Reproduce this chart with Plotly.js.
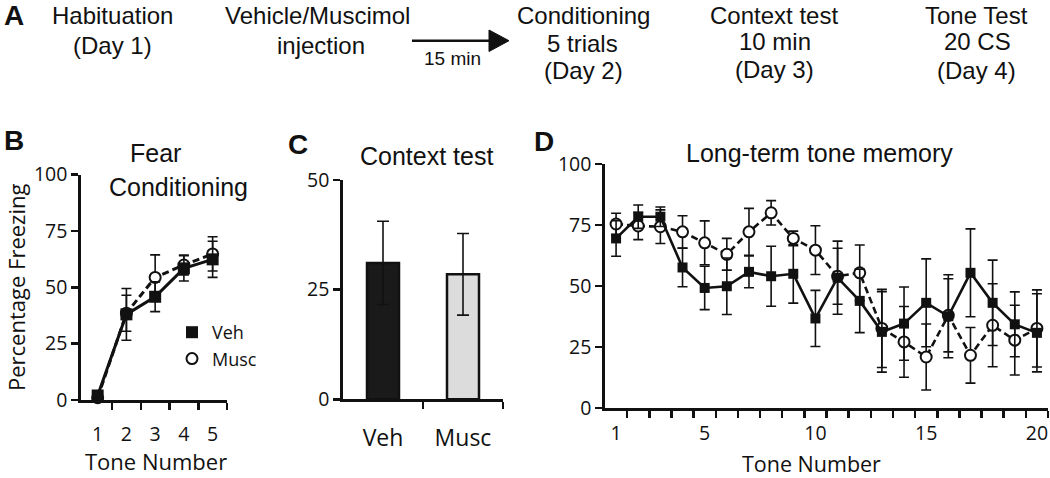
<!DOCTYPE html>
<html>
<head>
<meta charset="utf-8">
<script src="https://cdn.plot.ly/plotly-3.0.1.min.js"></script>
<style>html,body{margin:0;padding:0;background:#fff;}</style>
</head>
<body>
<div id="chart" style="width:1050px;height:478px;"></div>
<script>
// ---------- data ----------
// Panel B: fear conditioning (tones 1-5)
const toneB = [1, 2, 3, 4, 5];
const vehB = [2, 38, 45.8, 58.4, 62.4];
const vehBErr = [1, 11.5, 6.6, 5.6, 8];
const muscB = [1, 38.5, 54.4, 59.9, 64.8];
const muscBErr = [1, 8, 10, 4.4, 7.6];

// Panel C: context test
const groupsC = ['Veh', 'Musc'];
const ctxC = [31.1, 28.5];
const ctxCErr = [9.5, 9.3];

// Panel D: long-term tone memory (tones 1-20)
const toneD = [1,2,3,4,5,6,7,8,9,10,11,12,13,14,15,16,17,18,19,20];
const vehD = [69.5, 78.4, 78.4, 57.6, 49.2, 49.9, 55.8, 54, 55, 36.7, 53.4, 43.9, 31.2, 34.6, 43.1, 37.6, 55.4, 43.1, 34.3, 30.8];
const vehDErr = [7.3, 4.8, 4, 7.9, 8.9, 11.6, 6.5, 12.3, 12, 11.5, 15, 13, 16.5, 15, 18, 17, 18, 17.5, 13.3, 16];
const muscD = [75.4, 74.6, 74.3, 72.2, 67.7, 63, 72.2, 80, 69.5, 64.7, 54, 55.4, 32.6, 27.1, 20.9, 38, 21.6, 33.9, 27.8, 32.6];
const muscDErr = [4.4, 5.6, 6.9, 6.6, 9, 6.5, 9.6, 5, 3, 10, 11.5, 11.4, 16, 14.5, 13.5, 15, 11.4, 17, 14.3, 15.8];

// tick labels
const ticksB = [0, 25, 50, 75, 100];
const ticksC = [0, 25, 50];
const ticksD = [0, 25, 50, 75, 100];
const xLabelsD = [1, 5, 10, 15, 20];

// ---------- helpers ----------
const W = 1050, H = 478;
const px = x => x / W;
const py = y => 1 - y / H;
const INK = '#111';
const SANS = 'Open Sans, Noto Sans, sans-serif';
const ARIAL = 'Liberation Sans, Arial, sans-serif';
const boundaries = (n, start) => Array.from({length: n}, (_, i) => start + i + 0.5);

function ann(text, x, y, size, extra) {
  return Object.assign({
    text: text, xref: 'paper', yref: 'paper', x: px(x), y: py(y),
    xanchor: 'center', yanchor: 'middle', showarrow: false,
    font: {family: ARIAL, size: size, color: INK}
  }, extra || {});
}

function lineTrace(x, y, xa, ya, width, dash) {
  return {x: x, y: y, xaxis: xa, yaxis: ya, type: 'scatter', mode: 'lines',
    line: {color: INK, width: width, dash: dash}, showlegend: false, hoverinfo: 'skip', cliponaxis: false};
}
function markerTrace(name, x, y, err, xa, ya, symbol, size, fill, showlegend) {
  return {x: x, y: y, xaxis: xa, yaxis: ya, type: 'scatter', mode: 'markers', name: name,
    marker: {symbol: symbol, size: size, color: fill, line: {color: INK, width: symbol === 'circle' ? 2 : 0}},
    error_y: {type: 'data', array: err, visible: true, color: INK, thickness: 1.6, width: 5},
    showlegend: showlegend, cliponaxis: false, legendrank: name === 'Veh' ? 1 : 2};
}

const data = [
  // Panel B
  lineTrace(toneB, muscB, 'x', 'y', 3, '7px,4px'),
  markerTrace('Musc', toneB, muscB, muscBErr, 'x', 'y', 'circle', 11, '#fff', true),
  lineTrace(toneB, vehB, 'x', 'y', 3, 'solid'),
  markerTrace('Veh', toneB, vehB, vehBErr, 'x', 'y', 'square', 12, INK, true),
  // Panel C
  {x: [0, 1], y: ctxC, xaxis: 'x2', yaxis: 'y2', type: 'bar', width: 0.4,
   marker: {color: ['#1a1a1a', '#dcdcdc'], line: {color: INK, width: 2.5}},
   error_y: {type: 'data', array: ctxCErr, visible: true, color: INK, thickness: 1.6, width: 6},
   showlegend: false, hovertext: groupsC},
  // Panel D
  lineTrace(toneD, muscD, 'x3', 'y3', 2.6, '7px,4px'),
  markerTrace('Musc', toneD, muscD, muscDErr, 'x3', 'y3', 'circle', 11, '#fff', false),
  lineTrace(toneD, vehD, 'x3', 'y3', 2.6, 'solid'),
  markerTrace('Veh', toneD, vehD, vehDErr, 'x3', 'y3', 'square', 10, INK, false)
];

function xAxis(domain, range, anchor, tickvals, ticktext, minorVals, standoff, fontSize) {
  const ax = {domain: domain, range: range, anchor: anchor, tickmode: 'array', tickvals: tickvals,
    ticks: '', showline: true, linewidth: 2.7, linecolor: INK, showgrid: false, zeroline: false,
    tickfont: {family: SANS, size: fontSize, color: INK}, ticklabelstandoff: standoff, fixedrange: true,
    minor: {tickmode: 'array', tickvals: minorVals, ticks: 'outside', ticklen: 7, tickwidth: 2.5, tickcolor: INK, showgrid: false}};
  if (ticktext) ax.ticktext = ticktext;
  return ax;
}
function yAxis(domain, range, anchor, tickvals) {
  return {domain: domain, range: range, anchor: anchor, tickmode: 'array', tickvals: tickvals,
    ticks: 'outside', ticklen: 7, tickwidth: 2.5, tickcolor: INK, showline: true, linewidth: 2.7, linecolor: INK,
    showgrid: false, zeroline: false, tickfont: {family: SANS, size: 19.5, color: INK}, fixedrange: true};
}

// arrow in panel A
const arrowY = 40.7;
const shapes = [
  {type: 'line', xref: 'paper', yref: 'paper', x0: px(412), x1: px(492), y0: py(arrowY), y1: py(arrowY),
   line: {color: INK, width: 2.5}},
  {type: 'path', xref: 'paper', yref: 'paper',
   path: `M ${px(489)} ${py(30)} L ${px(509)} ${py(arrowY)} L ${px(489)} ${py(51.5)} Z`,
   fillcolor: INK, line: {color: INK, width: 1}}
];

const BOLD = {family: ARIAL, size: 28, color: INK, weight: 'bold'};
const AXT = {family: SANS, size: 22, color: INK};
const annotations = [
  // Panel A
  ann('A', 14, 16, 28, {font: BOLD}),
  ann('Habituation', 112, 15.5, 24), ann('(Day 1)', 112, 45, 24),
  ann('Vehicle/Muscimol', 317, 15.5, 24), ann('injection', 321, 45, 24),
  ann('15 min', 452, 58, 19),
  ann('Conditioning', 583, 15, 24), ann('5 trials', 582, 43, 24), ann('(Day 2)', 583, 71, 24),
  ann('Context test', 774, 15, 24), ann('10 min', 775, 42, 24), ann('(Day 3)', 774, 69, 24),
  ann('Tone Test', 976, 15, 24), ann('20 CS', 977, 42, 24), ann('(Day 4)', 976, 70, 24),
  // panel letters
  ann('B', 14, 141, 28, {font: BOLD}),
  ann('C', 298, 144, 28, {font: BOLD}),
  ann('D', 544, 142, 28, {font: BOLD}),
  // panel titles
  ann('Fear', 155, 153, 25), ann('Conditioning', 178, 187, 25),
  ann('Context test', 426, 156, 25),
  ann('Long-term tone memory', 819, 153, 25),
  // axis titles
  ann('Percentage Freezing', 16, 288, 22, {textangle: -90, font: AXT}),
  ann('Tone Number', 156, 461, 22, {font: AXT}),
  ann('Tone Number', 811, 463, 21, {font: {family: SANS, size: 21.5, color: INK}})
];

const layout = {
  width: W, height: H, autosize: false,
  margin: {l: 0, r: 0, t: 0, b: 0, pad: 0},
  paper_bgcolor: '#fff', plot_bgcolor: 'rgba(0,0,0,0)',
  font: {family: SANS, color: INK, size: 18},
  showlegend: true,
  legend: {x: px(172), y: py(314), xanchor: 'left', yanchor: 'top', bgcolor: 'rgba(0,0,0,0)',
    font: {family: SANS, size: 18, color: INK}, traceorder: 'normal', tracegroupgap: 0},
  bargap: 0,
  xaxis: xAxis([px(81), px(227)], [0.42, 5.5], 'y', toneB, null, boundaries(5, 1), 15, 19.5),
  yaxis: yAxis([py(400), py(174.6)], [0, 100], 'x', ticksB),
  xaxis2: xAxis([px(343), px(503)], [-0.5, 1.5], 'y2', [0, 1], groupsC, [0.5, 1.5], 16, 23),
  yaxis2: yAxis([py(399.3), py(180)], [0, 50], 'x2', ticksC),
  xaxis3: xAxis([px(605), px(1048)], [0.5, 20.5], 'y3', xLabelsD, null, boundaries(20, 1), 6, 19.5),
  yaxis3: yAxis([py(408), py(164)], [0, 100], 'x3', ticksD),
  shapes: shapes,
  annotations: annotations
};

Plotly.newPlot('chart', data, layout, {displayModeBar: false, staticPlot: true});
</script>
</body>
</html>
